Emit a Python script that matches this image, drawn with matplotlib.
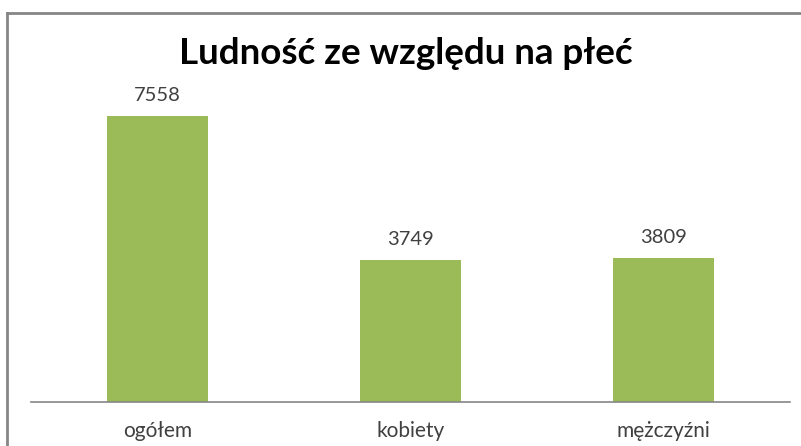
import matplotlib.pyplot as plt
from matplotlib.lines import Line2D

categories = ['ogółem', 'kobiety', 'mężczyźni']
values = [7558, 3749, 3809]

plt.rcParams['font.family'] = ['Lato', 'DejaVu Sans']

fig = plt.figure(figsize=(8.01, 4.46), dpi=100)
ax = fig.add_axes([31 / 801, 44 / 446, 759 / 801, 340 / 446])

bars = ax.bar(categories, values, width=0.4, color='#9BBB59')
for b, v in zip(bars, values):
    ax.text(b.get_x() + b.get_width() / 2, v + 330, str(v),
            ha='center', va='bottom', fontsize=14.5, color='#404040')

ax.set_xlim(-0.5, 2.5)
ax.set_ylim(0, 9000)
ax.set_yticks([])
for s in ['top', 'right', 'left']:
    ax.spines[s].set_visible(False)
ax.spines['bottom'].set_color('#868686')
ax.spines['bottom'].set_linewidth(1.2)
ax.tick_params(axis='x', length=0, pad=14, labelsize=15, labelcolor='#404040')

fig.text(406 / 801, 1 - 53 / 446, 'Ludność ze względu na płeć',
         ha='center', va='center', fontsize=26.5, fontweight='bold', color='black')

# ramka wykresu
fig.add_artist(Line2D([7 / 801, 7 / 801], [0, 1 - 13 / 446], color='#868686', lw=2))
fig.add_artist(Line2D([7 / 801, 1], [1 - 13 / 446, 1 - 13 / 446], color='#868686', lw=2))

fig.savefig('out.png', dpi=100)
